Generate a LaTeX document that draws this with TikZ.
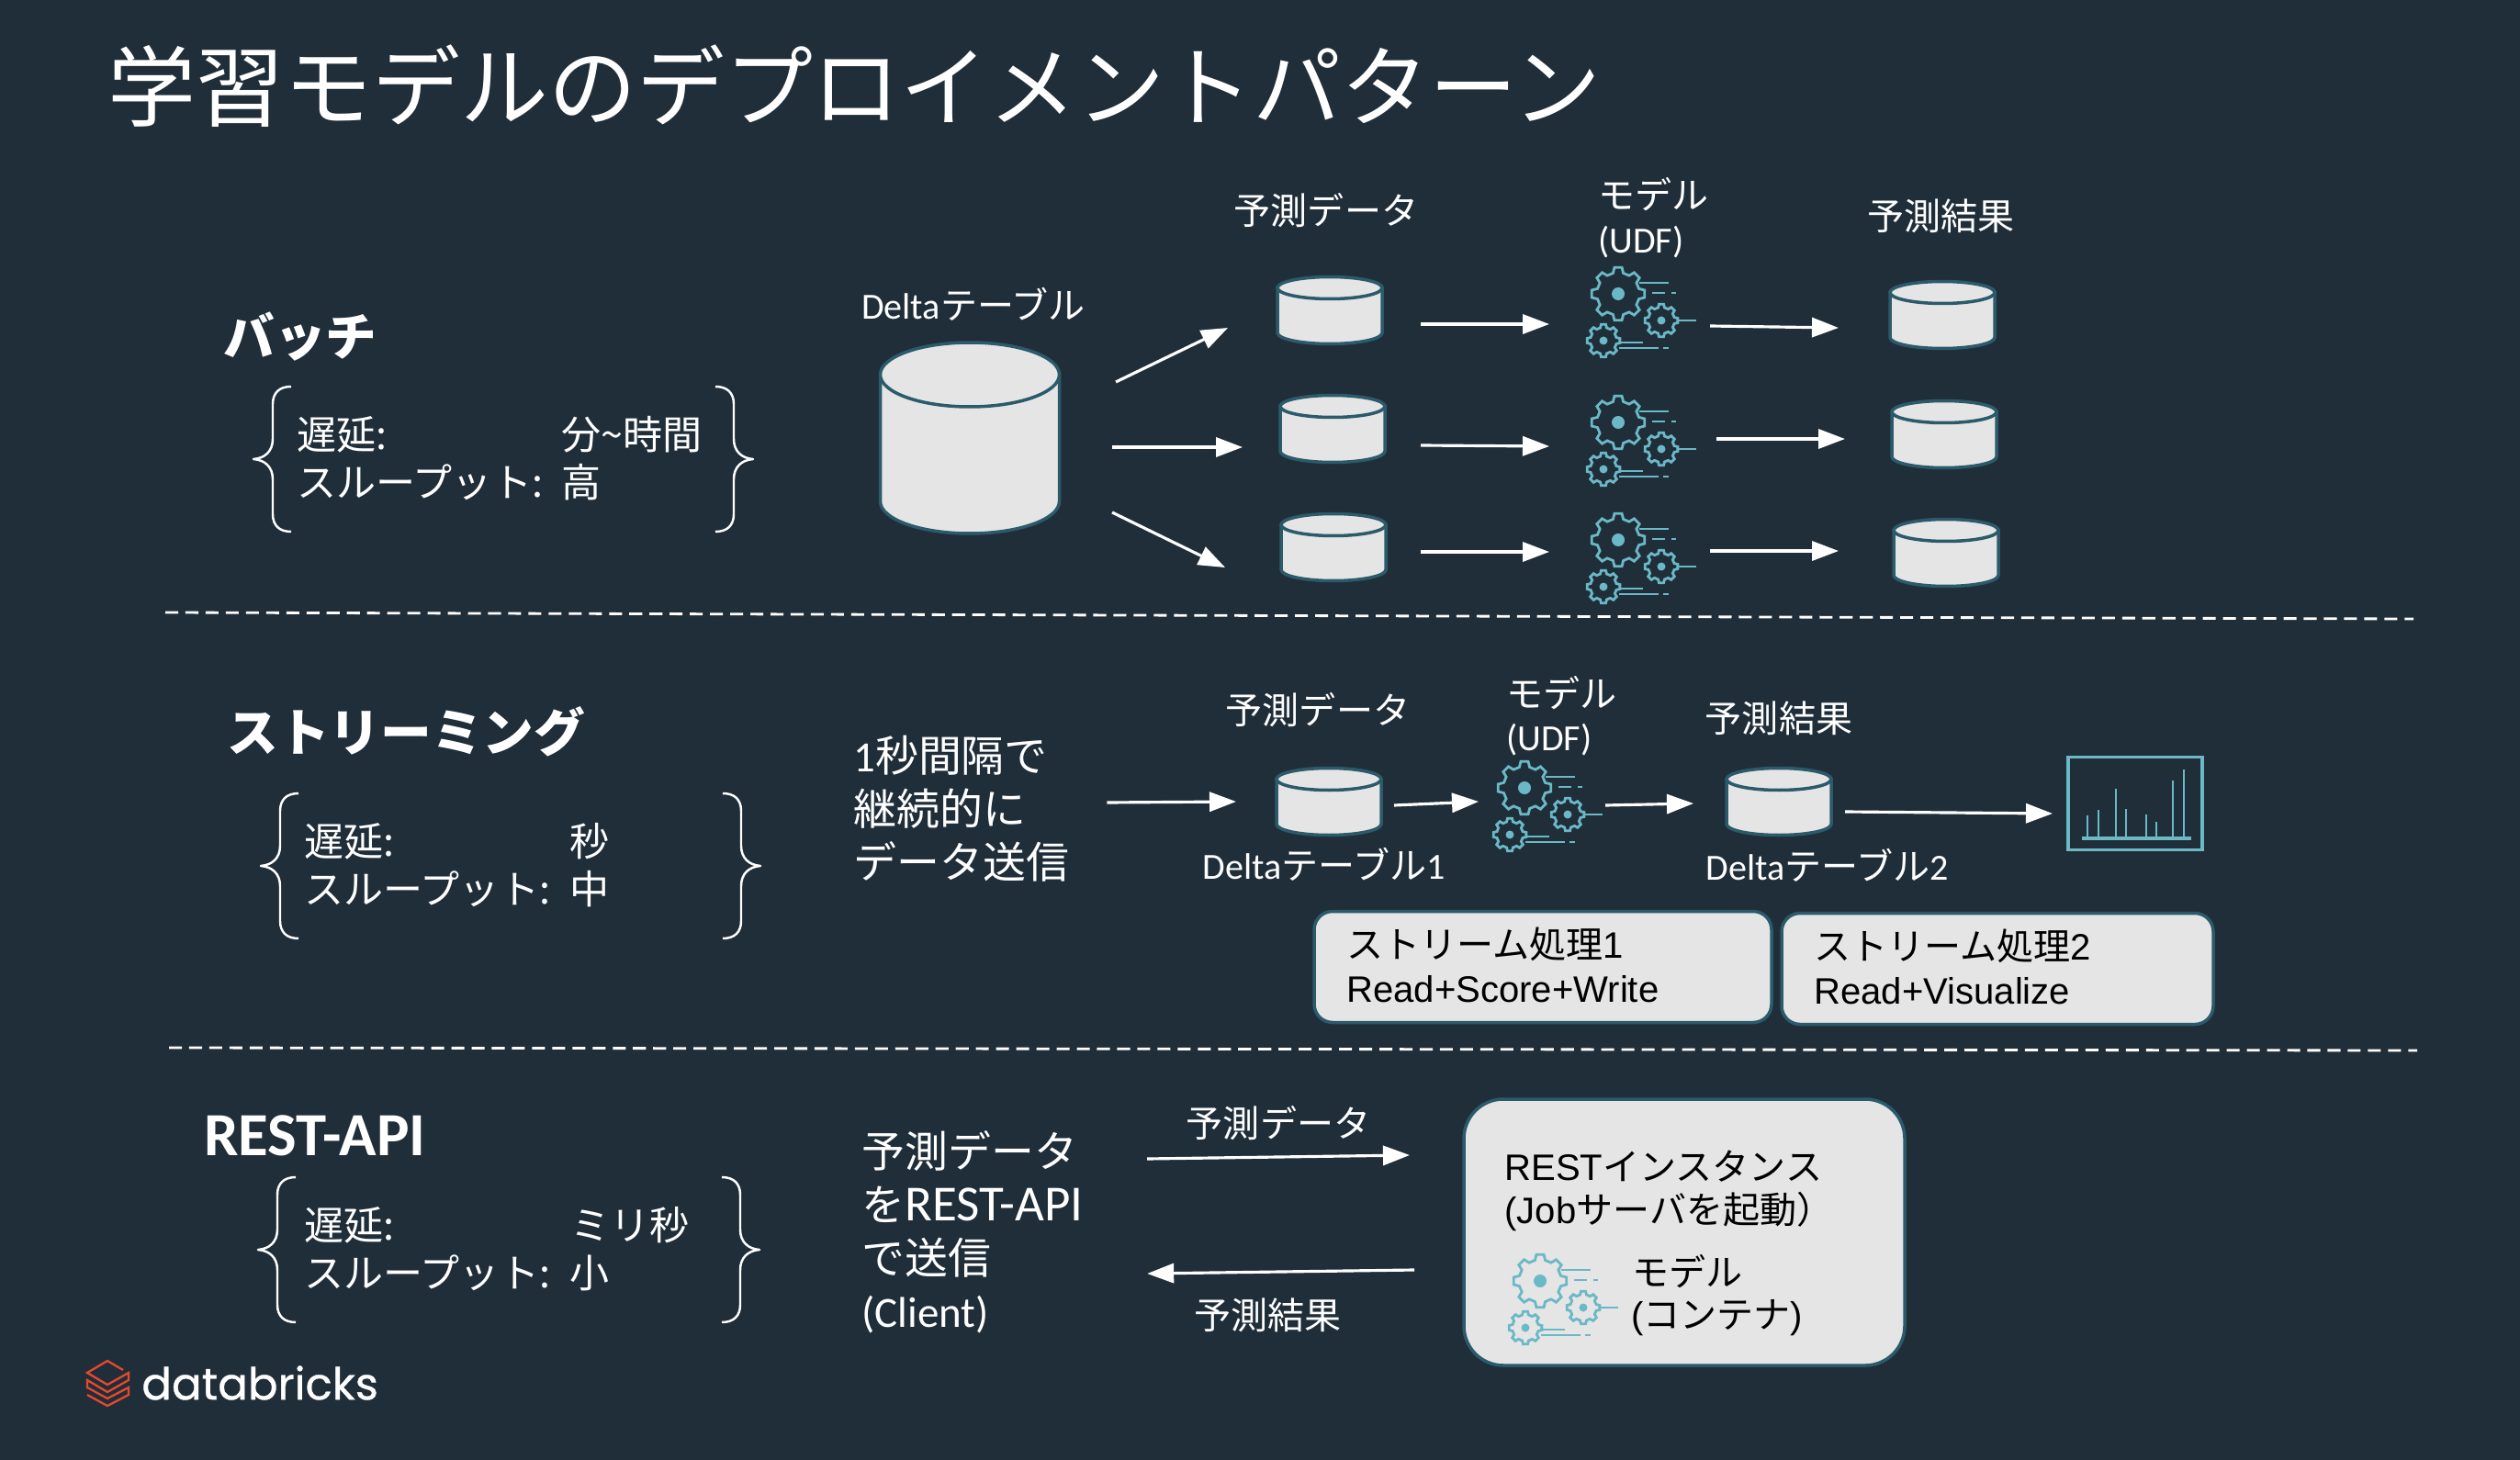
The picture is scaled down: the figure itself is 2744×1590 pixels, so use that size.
\documentclass[tikz,border=0pt]{standalone}
\usepackage{fontspec}
\usepackage{tikz}
\usetikzlibrary{arrows.meta}
\setmainfont{Noto Sans CJK JP}
\newfontfamily\din{Carlito}
\newfontfamily\ar{Liberation Sans}
\newfontfamily\logofont[FakeBold=0.7]{Poppins}
\definecolor{bgdark}{HTML}{202E39}
\definecolor{rimblue}{HTML}{2B5A6B}
\definecolor{boxgrey}{HTML}{E5E5E5}
\definecolor{gearteal}{HTML}{6BB8C6}
\definecolor{logored}{HTML}{E8492C}
\tikzset{
  lbl/.style={text=white,inner sep=0,font=\fontsize{22.8}{28}\selectfont},
  lblleft/.style={lbl,anchor=west},
  lat/.style={lblleft,font=\fontsize{24.5}{30}\selectfont},
  head/.style={lblleft,font=\bfseries\fontsize{31.7}{36}\selectfont},
  send/.style={lblleft,align=left,font=\fontsize{26.7}{33}\selectfont},
  onbox/.style={lblleft,text=black},
  procbox/.style={draw=rimblue,fill=boxgrey,line width=.7mm,rounded corners=4mm,
    inner sep=0,minimum height=24.2mm},
  flow/.style={-{Triangle[length=16.5pt,width=12pt]},white,line width=1.8pt},
  sepline/.style={white,line width=1.6pt,dash pattern=on 8pt off 4.5pt},
  gearline/.style={gearteal,line width=1.6pt},
  pics/dbcan/.style n args={3}{code={
    \node[inner sep=0,minimum width=#1*.2mm,minimum height=#2*.2mm] (-core) at (0,0) {};
    \draw[rimblue,fill=boxgrey,line width=.7mm] ({-#1/2},{-#2/2+#3}) -- ({-#1/2},{#2/2-#3})
      arc[start angle=180,end angle=0,x radius=#1/2,y radius=#3] -- ({#1/2},{-#2/2+#3}) -- cycle;
    \draw[rimblue,fill=boxgrey,line width=.7mm] (0,{-#2/2+#3}) ellipse[x radius=#1/2,y radius=#3];
  }},
  curly/.pic={
    \draw[white,line width=1.4pt,line join=round] (41,-79) .. controls (28,-79) and (21,-72) .. (21,-60) -- (21,-22)
      .. controls (21,-8) and (12,-1) .. (0,0) .. controls (12,1) and (21,8) .. (21,22) -- (21,60)
      .. controls (21,72) and (28,79) .. (41,79);
  },
  gearwheel/.pic={
    \draw[gearline] (8:#1) \foreach \a in {0,45,...,315} {
      -- (\a+8:#1) -- (\a+14:#1*.8) -- (\a+31:#1*.8) -- (\a+37:#1)} -- cycle;
  },
  gears/.pic={
    \node[circle,fill=gearteal,inner sep=0,minimum size=2.8mm] (-hub) at (0,0) {};
    \pic at (0,0) {gearwheel=29};
    \pic at (47,29) {gearwheel=18};
    \pic at (-16,51) {gearwheel=18};
    \fill[gearteal] (47,29) circle (4.5) (-16,51) circle (4.5);
    \draw[gearline] (23,-12) -- (55,-12) (37,-1) -- (51,-1) (58,-1) -- (63,-1)
      (65,29) -- (85,29) (1,53) -- (27,53) (1,59) -- (44,59) (49,59) -- (55,59);
  }
}
\begin{document}
\begin{tikzpicture}[x=.2mm,y=-.2mm]
\fill[bgdark] (0,0) rectangle (2744,1590);
\useasboundingbox (0,0) rectangle (2744,1590);
\node[lblleft,font=\fontsize{54.6}{60}\selectfont] (title) at (117,94) {学習モデルのデプロイメントパターン};
% batch
\node[head] (batch) at (243,367) {バッチ};
\pic at (276,500) {curly};
\pic[xscale=-1] at (820,500) {curly};
\node[lat] (batchL1) at (323,473) {遅延:};
\node[lat] (batchL2) at (323,525) {スループット:};
\node[lat] (batchV1) at (611,473) {分\~{}時間};
\node[lat] (batchV2) at (611,525) {高};
\pic (src) at (1056,477) {dbcan={195}{208}{35}};
\node[lbl] (srcName) at (1060,331) {{\din Delta}テーブル};
\pic (dbA) at (1448,338) {dbcan={114}{73}{12}};
\pic (dbB) at (1451,467) {dbcan={114}{73}{12}};
\pic (dbC) at (1452,596) {dbcan={114}{73}{12}};
\node[lbl] (dbName) at (1444,229) {予測データ};
\pic (gearsA) at (1762,320) {gears};
\pic (gearsB) at (1762,460) {gears};
\pic (gearsC) at (1762,588) {gears};
\node[lblleft] (modelA) at (1740,212) {モデル};
\node[lblleft] (modelB) at (1740,264) {\din (UDF)};
\pic (resA) at (2115,343) {dbcan={114}{73}{12}};
\pic (resB) at (2117,473) {dbcan={114}{73}{12}};
\pic (resC) at (2119,602) {dbcan={114}{73}{12}};
\node[lblleft] (resName) at (2033,235) {予測結果};
\draw[flow] ([shift={(159,-61)}]src-core.center) -- ([shift={(-111,19)}]dbA-core.center);
\draw[flow] ([shift={(155,10)}]src-core.center) -- ([shift={(-98,20)}]dbB-core.center);
\draw[flow] ([shift={(155,81)}]src-core.center) -- ([shift={(-118,22)}]dbC-core.center);
\draw[flow] ([shift={(99,15)}]dbA-core.center) -- ([shift={(-75,33)}]gearsA-hub.center);
\draw[flow] ([shift={(96,18)}]dbB-core.center) -- ([shift={(-75,26)}]gearsB-hub.center);
\draw[flow] ([shift={(95,5)}]dbC-core.center) -- ([shift={(-75,13)}]gearsC-hub.center);
\draw[flow] ([shift={(100,35)}]gearsA-hub.center) -- ([shift={(-113,14)}]resA-core.center);
\draw[flow] ([shift={(107,18)}]gearsB-hub.center) -- ([shift={(-108,5)}]resB-core.center);
\draw[flow] ([shift={(100,12)}]gearsC-hub.center) -- ([shift={(-117,-2)}]resC-core.center);
\coordinate (sepAa) at (180,667);
\coordinate (sepAb) at (2628,674);
\draw[sepline] (sepAa) -- (sepAb);
% streaming
\node[head] (stream) at (247,797) {ストリーミング};
\pic at (284,943) {curly};
\pic[xscale=-1] at (828,943) {curly};
\node[lat] (streamL1) at (331,916) {遅延:};
\node[lat] (streamL2) at (331,968) {スループット:};
\node[lat] (streamV1) at (620,916) {秒};
\node[lat] (streamV2) at (620,968) {中};
\node[send] (sendS) at (929,881) {{\din 1}秒間隔で\\継続的に\\データ送信};
\pic (dbS) at (1447,873) {dbcan={114}{73}{12}};
\node[lbl] (dbSTop) at (1435,773) {予測データ};
\node[lbl] (dbSName) at (1442,941) {{\din Delta}テーブル{\din 1}};
\pic (gearsS) at (1660,858) {gears};
\node[lblleft] (modelC) at (1640,755) {モデル};
\node[lblleft] (modelD) at (1640,806) {\din (UDF)};
\pic (resS) at (1937,873) {dbcan={114}{73}{12}};
\node[lbl] (resSTop) at (1937,782) {予測結果};
\node[lbl] (resSName) at (1990,942) {{\din Delta}テーブル{\din 2}};
\node[draw=gearteal,line width=2pt,inner sep=0,minimum width=29.2mm,minimum height=20.2mm] (chart) at (2325,875) {};
\begin{scope}[shift={(chart.center)}]
\draw[gearline,line width=1.6pt] (-52,38) -- (-52,13) (-40,38) -- (-40,7)
  (-21,38) -- (-21,-16) (-10,38) -- (-10,6) (12,38) -- (12,12) (23,38) -- (23,20)
  (41,38) -- (41,-25) (53,38) -- (53,-37);
\draw[gearline,line width=2pt] (-58,38) -- (61,38);
\end{scope}
\draw[flow] ([shift={(41,-7)}]sendS.east) -- ([shift={(-101,0)}]dbS-core.center);
\draw[flow] ([shift={(71,4)}]dbS-core.center) -- ([shift={(-50,15)}]gearsS-hub.center);
\draw[flow] ([shift={(88,19)}]gearsS-hub.center) -- ([shift={(-93,2)}]resS-core.center);
\draw[flow] ([shift={(72,11)}]resS-core.center) -- ([shift={(-90,11)}]chart.center);
\node[procbox,minimum width=99.6mm] (procA) at (1680,1053) {};
\node[procbox,minimum width=94mm] (procB) at (2175,1055) {};
\node[onbox] (procAa) at (1466,1028) {ストリーム処理{\ar 1}};
\node[onbox] (procAb) at (1466,1077) {\ar Read+Score+Write};
\node[onbox] (procBa) at (1975,1030) {ストリーム処理{\ar 2}};
\node[onbox] (procBb) at (1975,1079) {\ar Read+Visualize};
\coordinate (sepBa) at (184,1141);
\coordinate (sepBb) at (2632,1144);
\draw[sepline] (sepBa) -- (sepBb);
% rest
\node[head,font=\bfseries\din\fontsize{38}{40}\selectfont] (rest) at (222,1237) {REST-API};
\pic at (281,1361) {curly};
\pic[xscale=-1] at (827,1361) {curly};
\node[lat] (restL1) at (331,1334) {遅延:};
\node[lat] (restL2) at (331,1386) {スループット:};
\node[lat] (restV1) at (621,1334) {ミリ秒};
\node[lat] (restV2) at (620,1386) {小};
\node[send] (sendR) at (938,1342) {予測データ\\を{\din\fontsize{31.3}{33}\selectfont REST-API}\\で送信\\{\din (Client)}};
\node[draw=rimblue,fill=boxgrey,line width=.7mm,rounded corners=8.6mm,inner sep=0,
  minimum width=96mm,minimum height=58mm] (restBox) at (1834,1342) {};
\node[onbox] (restA) at (1638,1270) {{\ar REST}インスタンス};
\node[onbox] (restB) at (1638,1319) {{\ar (Job}サーバを起動）};
\node[onbox] (restC) at (1777,1385) {モデル};
\node[onbox] (restD) at (1776,1435) {{\ar (}コンテナ{\ar )}};
\pic (gearsR) at (1677,1395) {gears};
\draw[flow] ([shift={(69,-80)}]sendR.east) -- node[lbl,yshift=21pt] (reqName) {予測データ} ([shift={(-299,-84)}]restBox.center);
\draw[flow] ([shift={(-294,41)}]restBox.center) -- node[lbl,xshift=-8pt,yshift=-27pt] (respName) {予測結果} ([shift={(69,45)}]sendR.east);
% logo
\draw[logored,line width=1.3pt] (134,1492) -- (117,1482) -- (95,1495) -- (117,1508) -- (140,1495) -- (140,1503)
  -- (117,1516) -- (95,1503) -- (95,1511) -- (117,1523) -- (140,1511) -- (140,1519) -- (117,1531) -- (95,1519);
\node[lblleft,font=\logofont\fontsize{27.5}{30}\selectfont] (logo) at (154,1506) {databricks};
\end{tikzpicture}
\end{document}
